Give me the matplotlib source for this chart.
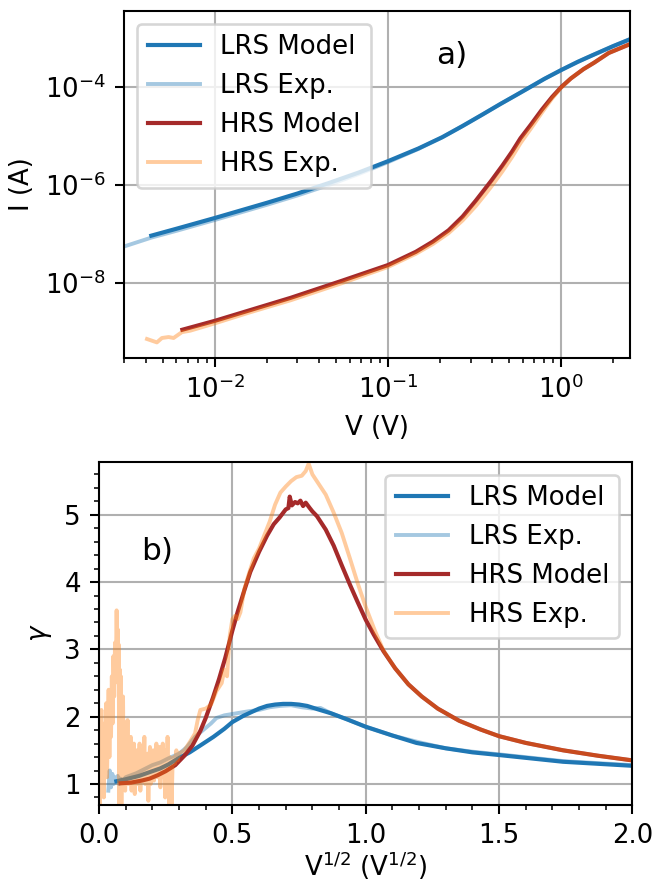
import matplotlib
matplotlib.use('Agg')
import matplotlib.pyplot as plt
from matplotlib.ticker import AutoMinorLocator, NullLocator

# panel a) I-V curves, log-log
lrs_model_v = [0.0043, 0.006, 0.01, 0.02, 0.03, 0.046, 0.068, 0.1, 0.15, 0.206, 0.27,
               0.35, 0.447, 0.55, 0.66, 0.8, 1.0, 1.25, 1.51, 2.0, 2.5]
lrs_model_i = [9.33e-8, 1.29e-7, 2.14e-7, 4.37e-7, 6.76e-7, 1.12e-6, 1.82e-6, 3.09e-6,
               5.62e-6, 9.55e-6, 1.62e-5, 2.75e-5, 4.57e-5, 6.92e-5, 1.0e-4, 1.48e-4,
               2.24e-4, 3.31e-4, 4.47e-4, 6.92e-4, 9.55e-4]

lrs_exp_v = [0.003, 0.0043, 0.006, 0.01, 0.02, 0.03, 0.046, 0.068, 0.1, 0.15, 0.206,
             0.27, 0.35, 0.447, 0.55, 0.66, 0.8, 1.0, 1.25, 1.51, 2.0, 2.5]
lrs_exp_i = [5.62e-8, 8.51e-8, 1.17e-7, 1.95e-7, 3.98e-7, 6.17e-7, 1.02e-6, 1.70e-6,
             2.95e-6, 5.50e-6, 9.55e-6, 1.62e-5, 2.75e-5, 4.57e-5, 6.92e-5, 1.0e-4,
             1.48e-4, 2.24e-4, 3.31e-4, 4.47e-4, 6.92e-4, 9.55e-4]

hrs_model_v = [0.0065, 0.01, 0.0274, 0.0543, 0.1, 0.145, 0.182, 0.224, 0.270, 0.321,
               0.368, 0.397, 0.458, 0.522, 0.583, 0.667, 0.774, 0.887, 1.0, 1.138,
               1.346, 1.549, 1.884, 2.5]
hrs_model_i = [1.12e-9, 1.70e-9, 5.01e-9, 1.12e-8, 2.34e-8, 4.37e-8, 7.08e-8, 1.20e-7,
               2.29e-7, 4.79e-7, 8.91e-7, 1.26e-6, 2.51e-6, 4.90e-6, 9.12e-6, 1.70e-5,
               3.47e-5, 6.31e-5, 1.0e-4, 1.51e-4, 2.34e-4, 3.16e-4, 5.01e-4, 7.59e-4]

hrs_exp_v = [0.00406, 0.00463, 0.00495, 0.00541, 0.00578, 0.00646, 0.00721, 0.01, 0.0158,
             0.0274, 0.0543, 0.1, 0.145, 0.182, 0.224, 0.270, 0.321, 0.368, 0.397, 0.458,
             0.522, 0.583, 0.667, 0.774, 0.887, 1.0, 1.138, 1.346, 1.549, 1.884, 2.5]
hrs_exp_i = [7.24e-10, 6.17e-10, 7.59e-10, 7.94e-10, 7.59e-10, 1.0e-9, 1.07e-9, 1.51e-9,
             2.51e-9, 4.47e-9, 1.0e-8, 2.14e-8, 3.98e-8, 6.31e-8, 1.05e-7, 1.91e-7,
             3.72e-7, 6.76e-7, 9.55e-7, 1.91e-6, 3.80e-6, 7.24e-6, 1.41e-5, 3.02e-5,
             5.89e-5, 9.77e-5, 1.51e-4, 2.34e-4, 3.16e-4, 5.01e-4, 7.59e-4]

# panel b) gamma vs sqrt(V)
lrs_model_x = [0.065, 0.1, 0.15, 0.2, 0.229, 0.26, 0.297, 0.34, 0.379, 0.429, 0.47, 0.5,
               0.54, 0.567, 0.6, 0.63, 0.66, 0.69, 0.72, 0.75, 0.78, 0.82, 0.87, 0.93,
               1.0, 1.1, 1.19, 1.3, 1.4, 1.5, 1.62, 1.74, 1.87, 2.0]
lrs_model_g = [1.04, 1.07, 1.12, 1.19, 1.23, 1.29, 1.38, 1.47, 1.57, 1.70, 1.82, 1.92,
               2.01, 2.06, 2.12, 2.16, 2.18, 2.19, 2.19, 2.18, 2.16, 2.11, 2.05, 1.96,
               1.85, 1.72, 1.61, 1.53, 1.47, 1.43, 1.38, 1.33, 1.30, 1.27]

lrs_exp_x = [0.035, 0.04, 0.045, 0.05, 0.055, 0.06, 0.065, 0.07, 0.075, 0.08, 0.09, 0.1,
             0.12, 0.14, 0.16, 0.18, 0.2, 0.23, 0.26, 0.3, 0.33, 0.36, 0.39, 0.42, 0.44,
             0.47, 0.5, 0.53, 0.56, 0.6, 0.64, 0.68, 0.72, 0.76, 0.8, 0.83, 0.87, 0.93,
             1.0, 1.1, 1.2, 1.3, 1.4, 1.5, 1.62, 1.74, 1.87, 2.0]
lrs_exp_g = [0.90, 1.2, 0.95, 1.15, 1.0, 1.1, 1.02, 1.12, 1.0, 1.08, 1.05, 1.1, 1.13,
             1.16, 1.2, 1.24, 1.28, 1.32, 1.38, 1.45, 1.55, 1.7, 1.8, 1.9, 1.98, 2.02,
             2.04, 2.06, 2.08, 2.1, 2.14, 2.16, 2.17, 2.14, 2.12, 2.13, 2.05, 1.96, 1.85,
             1.72, 1.62, 1.53, 1.48, 1.44, 1.39, 1.34, 1.31, 1.28]

hrs_model_x = [0.081, 0.12, 0.16, 0.19, 0.22, 0.25, 0.286, 0.32, 0.35, 0.38, 0.40, 0.427,
               0.45, 0.473, 0.50, 0.52, 0.545, 0.567, 0.60, 0.63, 0.655, 0.677, 0.70,
               0.71, 0.715, 0.723, 0.735, 0.745, 0.755, 0.765, 0.775, 0.79, 0.80, 0.817,
               0.85, 0.88, 0.91, 0.942, 0.97, 1.0, 1.03, 1.067, 1.11, 1.16, 1.21, 1.27,
               1.35, 1.43, 1.5, 1.6, 1.74, 1.87, 2.0]
hrs_model_g = [1.01, 1.02, 1.05, 1.08, 1.13, 1.19, 1.28, 1.42, 1.57, 1.79, 1.98, 2.28,
               2.56, 2.87, 3.28, 3.56, 3.88, 4.15, 4.45, 4.69, 4.86, 4.96, 5.08, 5.10,
               5.27, 5.14, 5.19, 5.17, 5.21, 5.13, 5.18, 5.10, 5.05, 4.98, 4.78, 4.54,
               4.25, 3.95, 3.70, 3.44, 3.22, 2.97, 2.72, 2.48, 2.30, 2.12, 1.94, 1.81,
               1.71, 1.61, 1.50, 1.42, 1.35]

hrs_exp_x = [0.0, 0.003, 0.006, 0.009, 0.012, 0.015, 0.018, 0.021, 0.024, 0.027, 0.03,
             0.033, 0.036, 0.039, 0.042, 0.045, 0.048, 0.051, 0.054, 0.057, 0.06, 0.063,
             0.066, 0.068, 0.07, 0.072, 0.074, 0.076, 0.078, 0.08, 0.082, 0.084, 0.086,
             0.088, 0.09, 0.092, 0.095, 0.098, 0.101, 0.104, 0.107, 0.11, 0.113, 0.116,
             0.119, 0.122, 0.125, 0.128, 0.131, 0.134, 0.137, 0.14, 0.143, 0.146, 0.149,
             0.152, 0.155, 0.158, 0.161, 0.164, 0.167, 0.17, 0.173, 0.176, 0.179, 0.182,
             0.185, 0.188, 0.191, 0.194, 0.197, 0.2, 0.203, 0.206, 0.209, 0.212, 0.215,
             0.218, 0.221, 0.224, 0.227, 0.23, 0.233, 0.236, 0.239, 0.242, 0.245, 0.248,
             0.251, 0.254, 0.257, 0.26, 0.263, 0.266, 0.269, 0.272, 0.276, 0.28, 0.285,
             0.29, 0.295, 0.3, 0.32, 0.34, 0.36, 0.37, 0.38, 0.40, 0.42, 0.44, 0.46,
             0.47, 0.48, 0.49, 0.50, 0.51, 0.52, 0.53, 0.545, 0.56, 0.58, 0.60, 0.62,
             0.64, 0.66, 0.68, 0.70, 0.72, 0.74, 0.76, 0.775, 0.786, 0.80, 0.82, 0.85,
             0.88, 0.91, 0.94, 0.97, 1.0, 1.036, 1.067, 1.11, 1.16, 1.21, 1.27, 1.35,
             1.43, 1.5, 1.6, 1.74, 1.87, 2.0]
hrs_exp_g = [1.8, 0.6, 1.5, 2.1, 1.0, 1.7, 0.8, 1.9, 1.3, 2.2, 1.1, 1.8, 2.4, 1.4, 2.2,
             1.7, 2.6, 1.9, 2.9, 2.3, 3.1, 2.6, 3.58, 3.0, 3.3, 2.5, 3.07, 0.6, 2.7, 1.8,
             2.6, 0.6, 2.2, 1.6, 2.3, 1.3, 1.9, 0.9, 1.7, 1.2, 1.95, 1.0, 1.5, 1.2, 1.7,
             0.9, 1.4, 1.1, 1.6, 0.85, 1.3, 1.5, 1.0, 1.4, 1.15, 1.6, 0.9, 1.3, 1.05, 1.5,
             1.2, 1.7, 1.0, 1.4, 1.1, 1.45, 0.75, 1.3, 1.55, 1.0, 1.35, 1.15, 1.5, 1.05,
             1.4, 1.25, 1.6, 1.1, 1.45, 1.2, 1.55, 0.95, 1.35, 1.2, 1.6, 1.1, 1.45, 0.8,
             1.5, 1.3, 1.7, 1.2, 0.6, 1.4, 1.3, 0.65, 1.35, 1.4, 1.3, 1.5, 1.35, 1.45,
             1.5, 1.62, 1.75, 1.95, 2.1, 2.12, 2.18, 2.38, 2.5, 2.7, 2.6, 3.2, 3.45, 3.5,
             3.45, 3.55, 3.9, 4.1, 4.35, 4.5, 4.7, 4.9, 5.15, 5.33, 5.42, 5.5, 5.56, 5.58,
             5.65, 5.76, 5.6, 5.48, 5.3, 5.03, 4.73, 4.36, 3.98, 3.63, 3.26, 2.98, 2.72,
             2.48, 2.30, 2.12, 1.94, 1.81, 1.71, 1.61, 1.50, 1.42, 1.35]

labels = ['LRS Model', 'LRS Exp.', 'HRS Model', 'HRS Exp.']

dpi = 187
fig = plt.figure(figsize=(654 / dpi, 882 / dpi), dpi=dpi)
ax1 = fig.add_axes([0.190, 0.5944, 0.7733, 0.3931])
ax2 = fig.add_axes([0.1514, 0.0875, 0.8157, 0.3891])

ax1.plot(lrs_model_v, lrs_model_i, color='tab:blue', lw=1.6, label=labels[0])
ax1.plot(lrs_exp_v, lrs_exp_i, color='tab:blue', alpha=0.4, lw=1.5, label=labels[1])
ax1.plot(hrs_model_v, hrs_model_i, color='brown', lw=1.6, label=labels[2])
ax1.plot(hrs_exp_v, hrs_exp_i, color='tab:orange', alpha=0.4, lw=1.5, label=labels[3])
ax1.set_xscale('log')
ax1.set_yscale('log')
ax1.set_xlim(0.003, 2.5)
ax1.set_ylim(3.0e-10, 3.6e-3)
ax1.yaxis.set_minor_locator(NullLocator())
ax1.grid(True)
ax1.set_xlabel('V (V)')
ax1.set_ylabel('I (A)')
ax1.legend(loc='upper left')
ax1.text(0.648, 0.873, 'a)', transform=ax1.transAxes, ha='center', va='center', fontsize=12)

ax2.plot(lrs_model_x, lrs_model_g, color='tab:blue', lw=1.6, label=labels[0])
ax2.plot(lrs_exp_x, lrs_exp_g, color='tab:blue', alpha=0.4, lw=1.5, label=labels[1])
ax2.plot(hrs_model_x, hrs_model_g, color='brown', lw=1.6, label=labels[2])
ax2.plot(hrs_exp_x, hrs_exp_g, color='tab:orange', alpha=0.4, lw=1.5, label=labels[3])
ax2.set_xlim(0, 2)
ax2.set_ylim(0.69, 5.79)
ax2.xaxis.set_minor_locator(AutoMinorLocator(5))
ax2.yaxis.set_minor_locator(AutoMinorLocator(5))
ax2.grid(True)
ax2.set_xlabel(r'V$^{1/2}$ (V$^{1/2}$)', labelpad=0)
ax2.set_ylabel(r'$\gamma$')
ax2.legend(loc='upper right')
ax2.text(0.109, 0.739, 'b)', transform=ax2.transAxes, ha='center', va='center', fontsize=12)

fig.savefig('out.png', dpi=dpi)
